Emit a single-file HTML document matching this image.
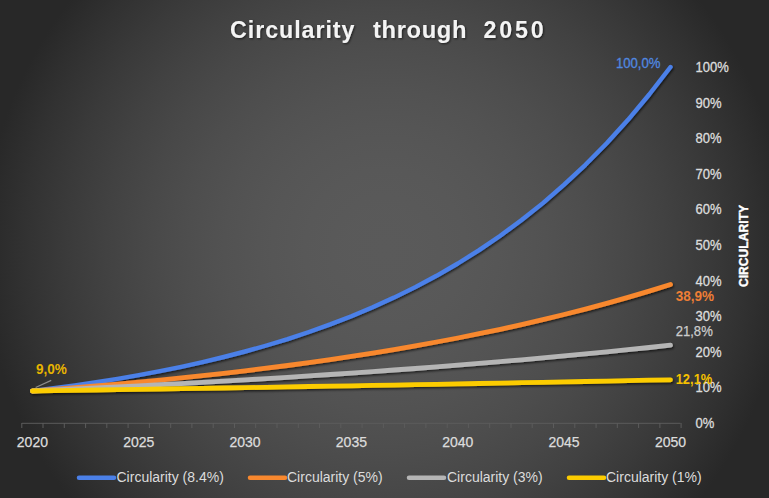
<!DOCTYPE html>
<html><head><meta charset="utf-8">
<style>
html,body{margin:0;padding:0;}
body{width:769px;height:498px;overflow:hidden;position:relative;
background:radial-gradient(circle 402px at 385px 250px, rgb(90.0,90.0,90.0) 0%,rgb(89.5,89.5,89.5) 10%,rgb(88.0,88.0,88.0) 20%,rgb(85.5,85.5,85.5) 30%,rgb(82.0,82.0,82.0) 40%,rgb(77.5,77.5,77.5) 50%,rgb(72.0,72.0,72.0) 60%,rgb(65.5,65.5,65.5) 70%,rgb(58.0,58.0,58.0) 80%,rgb(49.5,49.5,49.5) 90%,rgb(40.0,40.0,40.0) 100%);
font-family:"Liberation Sans", sans-serif;}
svg{position:absolute;left:0;top:0;}
</style></head><body>
<svg width="769" height="498" viewBox="0 0 769 498">
<defs>
<filter id="sh" x="-10%" y="-10%" width="120%" height="120%">
<feDropShadow dx="1" dy="1.5" stdDeviation="1.3" flood-color="#000" flood-opacity="0.65"/>
</filter>
<filter id="tsh" x="-10%" y="-30%" width="120%" height="160%">
<feDropShadow dx="1" dy="1" stdDeviation="1" flood-color="#000" flood-opacity="0.6"/>
</filter>
</defs>
<g font-family="Liberation Sans" font-weight="bold" font-size="24.5" fill="#f4f4f4" filter="url(#tsh)"><text transform="translate(230 38.4) scale(0.95 1)" x="0" y="0" textLength="131.05" lengthAdjust="spacing" >Circularity</text><text transform="translate(373 38.4) scale(0.97 1)" x="0" y="0" textLength="96.39" lengthAdjust="spacing" >through</text><text transform="translate(483.5 38.4) scale(0.95 1)" x="0" y="0" textLength="63.37" lengthAdjust="spacing" >2050</text></g>
<path d="M21.8 423.3H680.5M21.8 423v5M43.0 423v5M64.3 423v5M85.6 423v5M106.8 423v5M128.1 423v5M149.4 423v5M170.7 423v5M191.9 423v5M213.2 423v5M234.5 423v5M255.7 423v5M277.0 423v5M298.3 423v5M319.5 423v5M340.8 423v5M362.1 423v5M383.4 423v5M404.6 423v5M425.9 423v5M447.2 423v5M468.4 423v5M489.7 423v5M511.0 423v5M532.2 423v5M553.5 423v5M574.8 423v5M596.1 423v5M617.3 423v5M638.6 423v5M659.9 423v5M681.1 423v5" stroke="#5c5c5c" stroke-width="1" fill="none"/>
<g transform="translate(695.6 0) scale(0.93 1)" font-family="Liberation Sans" font-size="14" fill="#dcdcdc" stroke="#dcdcdc" stroke-width="0.3"><text x="0" y="428.0">0%</text><text x="0" y="392.4">10%</text><text x="0" y="356.8">20%</text><text x="0" y="321.2">30%</text><text x="0" y="285.6">40%</text><text x="0" y="250.0">50%</text><text x="0" y="214.4">60%</text><text x="0" y="178.8">70%</text><text x="0" y="143.2">80%</text><text x="0" y="107.6">90%</text><text x="0" y="72.0">100%</text></g>
<g font-family="Liberation Sans" font-size="14" fill="#dcdcdc" stroke="#dcdcdc" stroke-width="0.25" text-anchor="middle"><text x="32.4" y="447">2020</text><text x="138.8" y="447">2025</text><text x="245.1" y="447">2030</text><text x="351.4" y="447">2035</text><text x="457.8" y="447">2040</text><text x="564.1" y="447">2045</text><text x="670.5" y="447">2050</text></g>
<text transform="translate(747.5 246) rotate(-90)" text-anchor="middle" font-family="Liberation Sans" font-weight="bold" font-size="13" fill="#ffffff" stroke="#ffffff" stroke-width="0.4" textLength="82" lengthAdjust="spacingAndGlyphs">CIRCULARITY</text>
<g fill="none" stroke-width="4.8" stroke-linecap="round" stroke-linejoin="round" filter="url(#sh)">
<polyline points="32.4,391.0 53.7,388.3 74.9,385.4 96.2,382.2 117.5,378.8 138.8,375.1 160.0,371.1 181.3,366.8 202.6,362.1 223.8,357.0 245.1,351.5 266.4,345.5 287.6,339.1 308.9,332.0 330.2,324.4 351.4,316.2 372.7,307.3 394.0,297.6 415.3,287.1 436.5,275.8 457.8,263.5 479.1,250.1 500.3,235.7 521.6,220.0 542.9,203.1 564.1,184.7 585.4,164.8 606.7,143.2 628.0,119.8 649.2,94.5 670.5,67.0" stroke="#4b80e8" stroke-width="4.4"/>
<polyline points="32.4,391.0 53.7,389.4 74.9,387.7 96.2,385.9 117.5,384.1 138.8,382.1 160.0,380.1 181.3,377.9 202.6,375.7 223.8,373.3 245.1,370.8 266.4,368.2 287.6,365.5 308.9,362.6 330.2,359.6 351.4,356.4 372.7,353.1 394.0,349.6 415.3,345.9 436.5,342.0 457.8,338.0 479.1,333.7 500.3,329.3 521.6,324.6 542.9,319.7 564.1,314.5 585.4,309.1 606.7,303.4 628.0,297.4 649.2,291.1 670.5,284.5" stroke="#f8882e"/>
<polyline points="32.4,391.0 53.7,390.0 74.9,389.0 96.2,388.0 117.5,386.9 138.8,385.9 160.0,384.7 181.3,383.6 202.6,382.4 223.8,381.2 245.1,379.9 266.4,378.6 287.6,377.3 308.9,375.9 330.2,374.5 351.4,373.1 372.7,371.6 394.0,370.0 415.3,368.5 436.5,366.8 457.8,365.1 479.1,363.4 500.3,361.6 521.6,359.8 542.9,357.9 564.1,355.9 585.4,353.9 606.7,351.8 628.0,349.7 649.2,347.5 670.5,345.2" stroke="#b5b5b5"/>
<polyline points="32.4,391.0 53.7,390.6 74.9,390.3 96.2,390.0 117.5,389.7 138.8,389.3 160.0,389.0 181.3,388.6 202.6,388.3 223.8,388.0 245.1,387.6 266.4,387.3 287.6,386.9 308.9,386.5 330.2,386.2 351.4,385.8 372.7,385.4 394.0,385.1 415.3,384.7 436.5,384.3 457.8,383.9 479.1,383.5 500.3,383.1 521.6,382.7 542.9,382.3 564.1,381.9 585.4,381.5 606.7,381.1 628.0,380.7 649.2,380.2 670.5,379.8" stroke="#fccc00"/>
</g>
<path d="M35.6 387.5L51.2 380.4" stroke="#8c8c8c" stroke-width="1.2"/>
<g font-family="Liberation Sans" font-size="14.5">
<text x="615.9" y="68.3" fill="#5088e0" stroke="#5088e0" stroke-width="0.3" textLength="44.6" lengthAdjust="spacingAndGlyphs">100,0%</text>
<text x="675.7" y="301.2" fill="#ee7e35" font-weight="bold" textLength="38.3" lengthAdjust="spacingAndGlyphs">38,9%</text>
<text x="675.7" y="335.7" fill="#cccccc" stroke="#cccccc" stroke-width="0.25" textLength="37.1" lengthAdjust="spacingAndGlyphs">21,8%</text>
<text x="675.7" y="383.6" fill="#f5c000" font-weight="bold" textLength="36.6" lengthAdjust="spacingAndGlyphs">12,1%</text>
<text x="35.9" y="373.9" fill="#e8b400" font-weight="bold" textLength="30.9" lengthAdjust="spacingAndGlyphs">9,0%</text>
</g>
<g stroke-width="4.5" stroke-linecap="round">
<path d="M79 477.7H114" stroke="#4b80e8"/>
<path d="M250 477.7H285" stroke="#f8882e"/>
<path d="M409 477.7H444" stroke="#b5b5b5"/>
<path d="M569 477.7H604" stroke="#fccc00"/>
</g>
<g font-family="Liberation Sans" font-size="14" fill="#dcdcdc">
<text x="116.5" y="482">Circularity (8.4%)</text>
<text x="287" y="482">Circularity (5%)</text>
<text x="447" y="482">Circularity (3%)</text>
<text x="606" y="482">Circularity (1%)</text>
</g>
</svg>
</body></html>
